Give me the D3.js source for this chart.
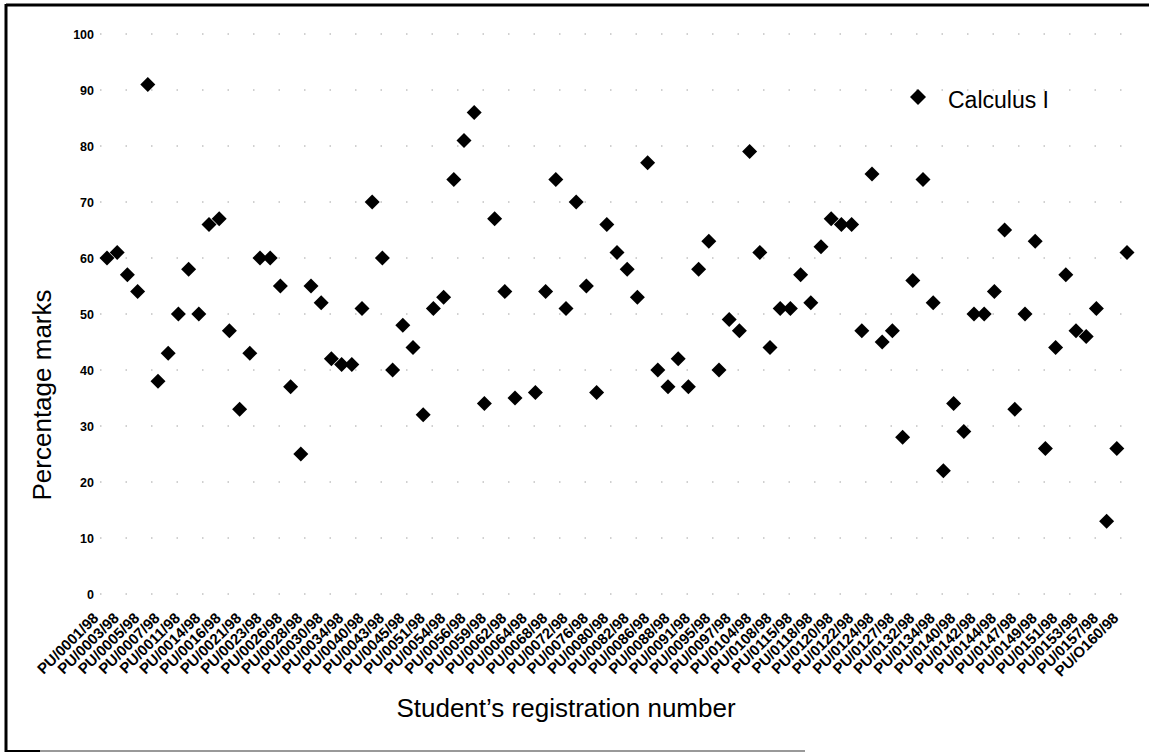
<!DOCTYPE html>
<html>
<head>
  <meta charset="utf-8">
  <title>Calculus I marks</title>
  <script src="https://cdnjs.cloudflare.com/ajax/libs/d3/7.8.5/d3.min.js"></script>
  <style type="text/css">
    body { margin: 0; background: #fff; }
    svg { display: block; font-family: "Liberation Sans", Arial, sans-serif; }
  </style>
</head>
<body>
<script>

var width = 1149;
var height = 754;

// every second registration number is printed under the axis
var tickLabels = ["PU/0001/98","PU/0003/98","PU/0005/98","PU/0007/98","PU/0011/98","PU/0014/98",
  "PU/0016/98","PU/0021/98","PU/0023/98","PU/0026/98","PU/0028/98","PU/0030/98","PU/0034/98",
  "PU/0040/98","PU/0043/98","PU/0045/98","PU/0051/98","PU/0054/98","PU/0056/98","PU/0059/98",
  "PU/0062/98","PU/0064/98","PU/0068/98","PU/0072/98","PU/0076/98","PU/0080/98","PU/0082/98",
  "PU/0086/98","PU/0088/98","PU/0091/98","PU/0095/98","PU/0097/98","PU/0104/98","PU/0108/98",
  "PU/0115/98","PU/0118/98","PU/0120/98","PU/0122/98","PU/0124/98","PU/0127/98","PU/0132/98",
  "PU/0134/98","PU/0140/98","PU/0142/98","PU/0144/98","PU/0147/98","PU/0149/98","PU/0151/98",
  "PU/0153/98","PU/0157/98","PU/O160/98"];

// one mark per student, in order (null = no mark shown)
var marks = [60,61,57,54,91,38,43,50,58,50,66,67,47,33,43,60,60,55,37,25,
  55,52,42,41,41,51,70,60,40,48,44,32,51,53,74,81,86,34,67,54,
  35,null,36,54,74,51,70,55,36,66,61,58,53,77,40,37,42,37,58,63,
  40,49,47,79,61,44,51,51,57,52,62,67,66,66,47,75,45,47,28,56,
  74,52,22,34,29,50,50,54,65,33,50,63,26,44,57,47,46,51,13,26,61];

var yTicks = [0,10,20,30,40,50,60,70,80,90,100];
var seriesName = "Calculus I";

var svg = d3.select("body").append("svg").attr("width", width).attr("height", height);

svg.append("rect").attr("width", width).attr("height", height).attr("fill", "#fff");

var x = d3.scaleLinear().domain([0, marks.length - 1]).range([107, 1127]);
var y = d3.scaleLinear().domain([0, 100]).range([594, 34]);

//faint dotted gridlines, like the scanned ones
svg.append("g").selectAll("line")
  .data(yTicks)
  .enter().append("line")
  .attr("x1", 100).attr("x2", 1135)
  .attr("y1", function(d){ return y(d); })
  .attr("y2", function(d){ return y(d); })
  .attr("stroke", "#666")
  .attr("stroke-width", 1)
  .attr("stroke-dasharray", "1.5,24")
  .attr("opacity", 0.6);

// y axis
var yAxis = svg.append("g")
  .attr("transform", "translate(94,0)")
  .call(d3.axisLeft(y).tickValues(yTicks).tickSize(0).tickPadding(0));
yAxis.select(".domain").remove();
yAxis.selectAll("text")
  .attr("font-family", "'Liberation Sans', Arial, sans-serif")
  .attr("font-size", 12.5)
  .attr("font-weight", "bold")
  .attr("fill", "#000");

// x axis
var xTickValues = d3.range(0, marks.length, 2);
var xAxis = svg.append("g")
  .attr("transform", "translate(0,619)")
  .call(d3.axisBottom(x).tickValues(xTickValues).tickSize(0)
    .tickFormat(function(d){ return tickLabels[d / 2]; }));
xAxis.select(".domain").remove();
xAxis.selectAll("text")
  .attr("font-family", "'Liberation Sans', Arial, sans-serif")
  .attr("font-size", 15)
  .attr("font-weight", "bold")
  .attr("fill", "#000")
  .attr("text-anchor", "end")
  .attr("y", 0)
  .attr("dy", 0)
  .attr("transform", "translate(-8,0) rotate(-45)");

// diamonds
function diamond(r){
  return "M0," + (-r) + "L" + r + ",0L0," + r + "L" + (-r) + ",0Z";
}

svg.append("g").selectAll("path")
  .data(marks.map(function(d, i){ return {i: i, v: d}; }).filter(function(d){ return d.v !== null; }))
  .enter().append("path")
  .attr("d", diamond(7.5))
  .attr("transform", function(d){ return "translate(" + x(d.i) + "," + y(d.v) + ")"; })
  .attr("fill", "#000");

// legend
svg.append("path").attr("d", diamond(8)).attr("transform", "translate(918,97)").attr("fill", "#000");
svg.append("text").attr("x", 948).attr("y", 108)
  .attr("font-size", 23).attr("fill", "#000").text(seriesName);

// axis titles
svg.append("text")
  .attr("transform", "translate(51,395) rotate(-90)")
  .attr("text-anchor", "middle")
  .attr("font-size", 26).attr("fill", "#000")
  .text("Percentage marks");

svg.append("text")
  .attr("x", 566).attr("y", 717)
  .attr("text-anchor", "middle")
  .attr("font-size", 26).attr("fill", "#000")
  .text("Student\u2019s registration number");

// frame of the scanned page
svg.append("line").attr("x1", 6).attr("x2", width).attr("y1", 5).attr("y2", 5)
  .attr("stroke", "#000").attr("stroke-width", 3);
svg.append("line").attr("x1", 6).attr("x2", 6).attr("y1", 4).attr("y2", 752)
  .attr("stroke", "#000").attr("stroke-width", 3);
svg.append("line").attr("x1", 6).attr("x2", 805).attr("y1", 751).attr("y2", 751)
  .attr("stroke", "#999").attr("stroke-width", 2);
svg.append("line").attr("x1", 6).attr("x2", 40).attr("y1", 751).attr("y2", 751)
  .attr("stroke", "#000").attr("stroke-width", 2);

</script>
</body>
</html>
